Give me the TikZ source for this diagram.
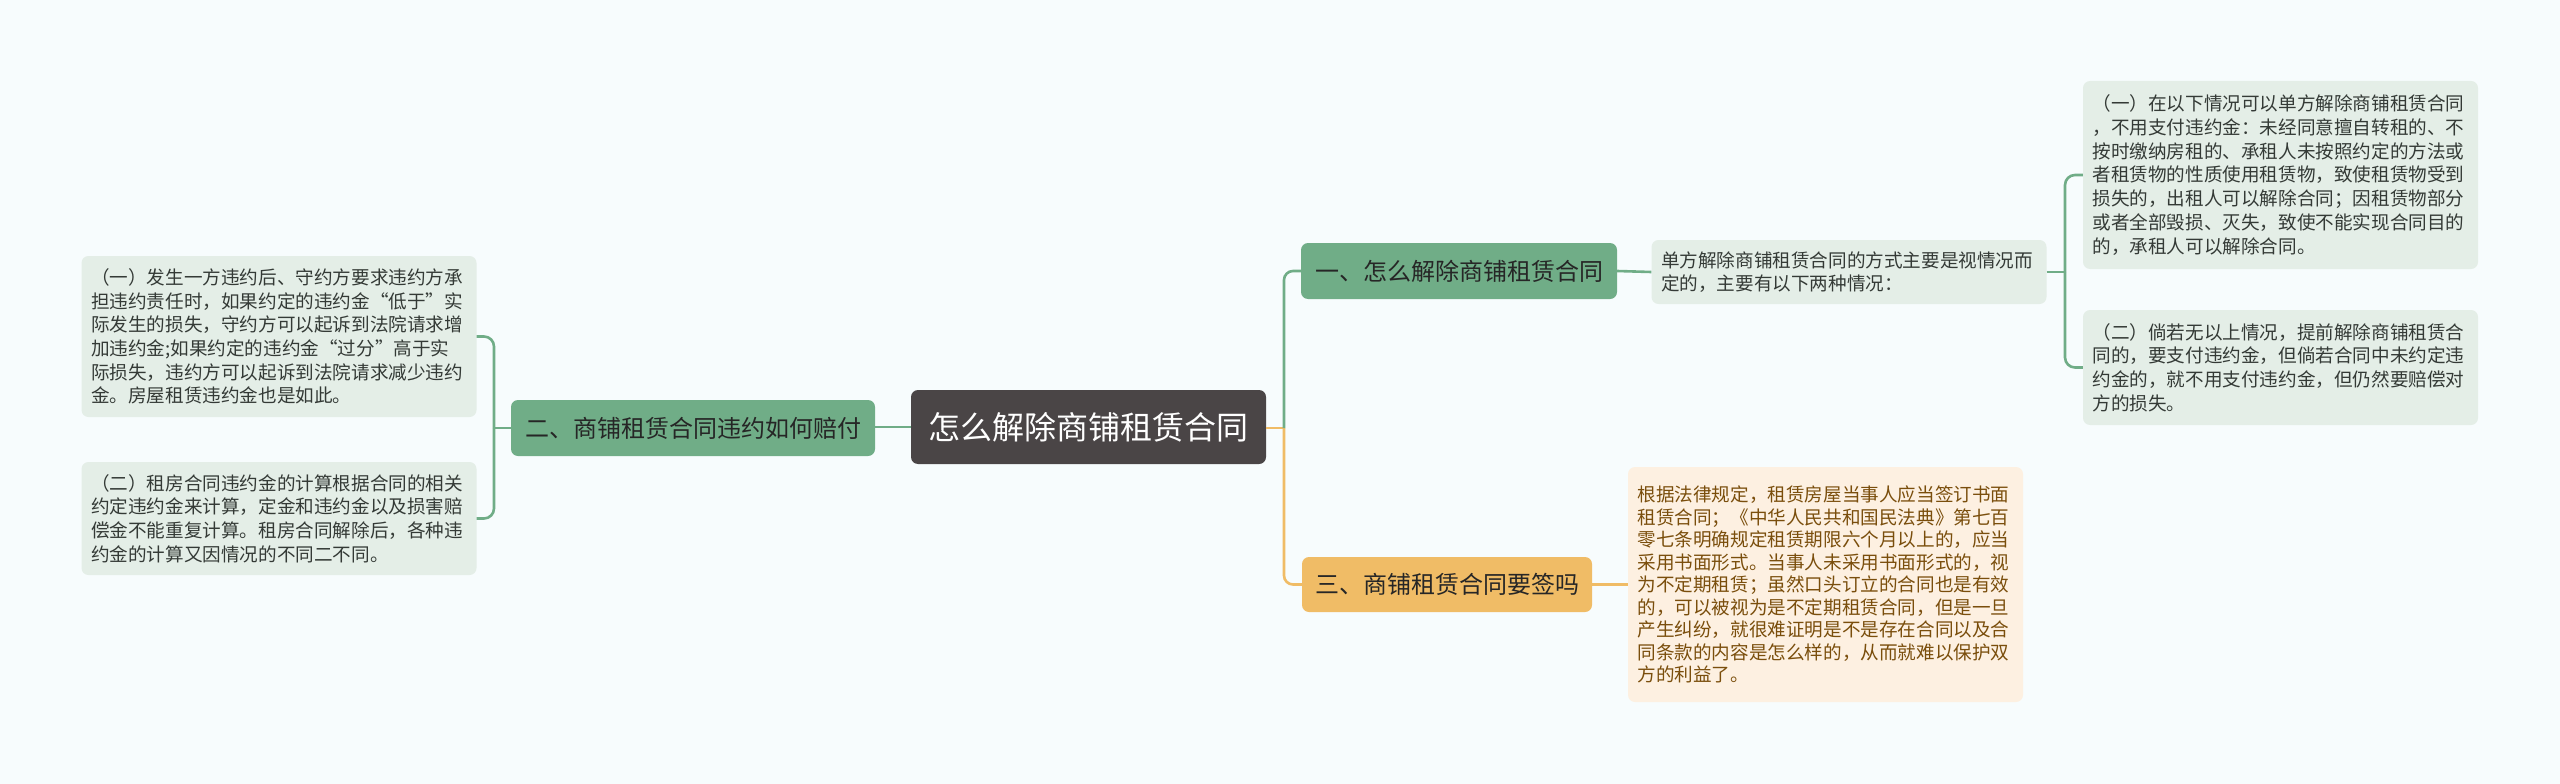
\documentclass[tikz,border=0pt]{standalone}
\usepackage{fontspec}
\setmainfont{Noto Sans CJK SC}
\usepackage{tikz}
\usetikzlibrary{positioning, calc}
\usepackage{xcolor}
\definecolor{bgcolor}{RGB}{247,252,253}
\definecolor{rootcolor}{RGB}{74,69,70}
\definecolor{topiccolor}{RGB}{112,173,135}
\definecolor{leafcolor}{RGB}{228,238,231}
\definecolor{leaftext}{RGB}{52,58,54}
\definecolor{orcolor}{RGB}{240,188,102}
\definecolor{orleaf}{RGB}{253,240,225}
\definecolor{ortext}{RGB}{122,78,12}

\begin{document}
\begin{tikzpicture}[
    x=1pt, y=-1pt,
    rootbox/.style={rectangle, rounded corners=7pt, fill=rootcolor, text=white, minimum width=355pt, minimum height=74pt, font=\fontsize{32}{36}\selectfont},
    topic/.style={rectangle, rounded corners=7pt, fill=topiccolor, text=black!85, minimum height=56pt, inner xsep=12pt, font=\fontsize{24}{28}\selectfont},
    ortopic/.style={topic, fill=orcolor},
    leaf/.style={rectangle, rounded corners=7pt, fill=leafcolor, text=leaftext, align=left, text width=376pt, inner xsep=9.5pt, font=\fontsize{18.6}{23.7}\selectfont},
    orleafbox/.style={leaf, fill=orleaf, text=ortext, font=\fontsize{18.6}{22.5}\selectfont},
    gline/.style={draw=topiccolor, line width=2.6pt},
    oline/.style={draw=orcolor, line width=2.6pt}
]
\fill[bgcolor] (0,0) rectangle (2560,784);

% centre and main branches
\node[rootbox] (root) at (1088.5,427) {怎么解除商铺租赁合同};
\node[topic, minimum width=316pt] (t1) at (1459,271) {一、怎么解除商铺租赁合同};
\node[topic, minimum width=364pt] (t2) at (693,428) {二、商铺租赁合同违约如何赔付};
\node[ortopic, minimum width=290pt, minimum height=55pt] (t3) at (1447,584.5) {三、商铺租赁合同要签吗};

% branch one
\node[leaf, minimum height=64pt] (desc) at (1849,272) {单方解除商铺租赁合同的方式主要是视情况而\\定的，主要有以下两种情况：};
\node[leaf, minimum height=188pt] (r1) at (2280.5,175) {（一）在以下情况可以单方解除商铺租赁合同\\，不用支付违约金：未经同意擅自转租的、不\\按时缴纳房租的、承租人未按照约定的方法或\\者租赁物的性质使用租赁物，致使租赁物受到\\损失的，出租人可以解除合同；因租赁物部分\\或者全部毁损、灭失，致使不能实现合同目的\\的，承租人可以解除合同。};
\node[leaf, minimum height=115pt] (r2) at (2280.5,367.5) {（二）倘若无以上情况，提前解除商铺租赁合\\同的，要支付违约金，但倘若合同中未约定违\\约金的，就不用支付违约金，但仍然要赔偿对\\方的损失。};

% branch two
\node[leaf, minimum height=161pt] (l1) at (279,336.5) {（一）发生一方违约后、守约方要求违约方承\\担违约责任时，如果约定的违约金“低于”实\\际发生的损失，守约方可以起诉到法院请求增\\加违约金;如果约定的违约金“过分”高于实\\际损失，违约方可以起诉到法院请求减少违约\\金。房屋租赁违约金也是如此。};
\node[leaf, minimum height=113pt] (l2) at (279,518.5) {（二）租房合同违约金的计算根据合同的相关\\约定违约金来计算，定金和违约金以及损害赔\\偿金不能重复计算。租房合同解除后，各种违\\约金的计算又因情况的不同二不同。};

% branch three
\node[orleafbox, minimum height=235pt] (o1) at (1825.5,584.5) {根据法律规定，租赁房屋当事人应当签订书面\\租赁合同；《中华人民共和国民法典》第七百\\零七条明确规定租赁期限六个月以上的，应当\\采用书面形式。当事人未采用书面形式的，视\\为不定期租赁；虽然口头订立的合同也是有效\\的，可以被视为是不定期租赁合同，但是一旦\\产生纠纷，就很难证明是不是存在合同以及合\\同条款的内容是怎么样的，从而就难以保护双\\方的利益了。};

\coordinate (rs) at (1284,428);
\coordinate (ds) at (2065,272);
\coordinate (ls) at (494,428);

\draw[oline] (root.east |- rs) -- (rs);
\draw[oline, rounded corners=9pt] (rs) |- (t3.west);
\draw[gline, rounded corners=9pt] (rs) |- (t1.west);
\draw[gline] (t1.east) -- (desc.west);
\draw[gline] (desc.east |- ds) -- (ds);
\draw[gline, rounded corners=10pt] (ds) |- (r1.west);
\draw[gline, rounded corners=10pt] (ds) |- (r2.west);
\draw[gline] (t2.east |- root.west) -- (root.west);
\draw[gline] (t2.west |- ls) -- (ls);
\draw[gline, rounded corners=10pt] (ls) |- (l1.east);
\draw[gline, rounded corners=10pt] (ls) |- (l2.east);
\draw[oline] (t3.east) -- (o1.west);

\end{tikzpicture}
\end{document}
